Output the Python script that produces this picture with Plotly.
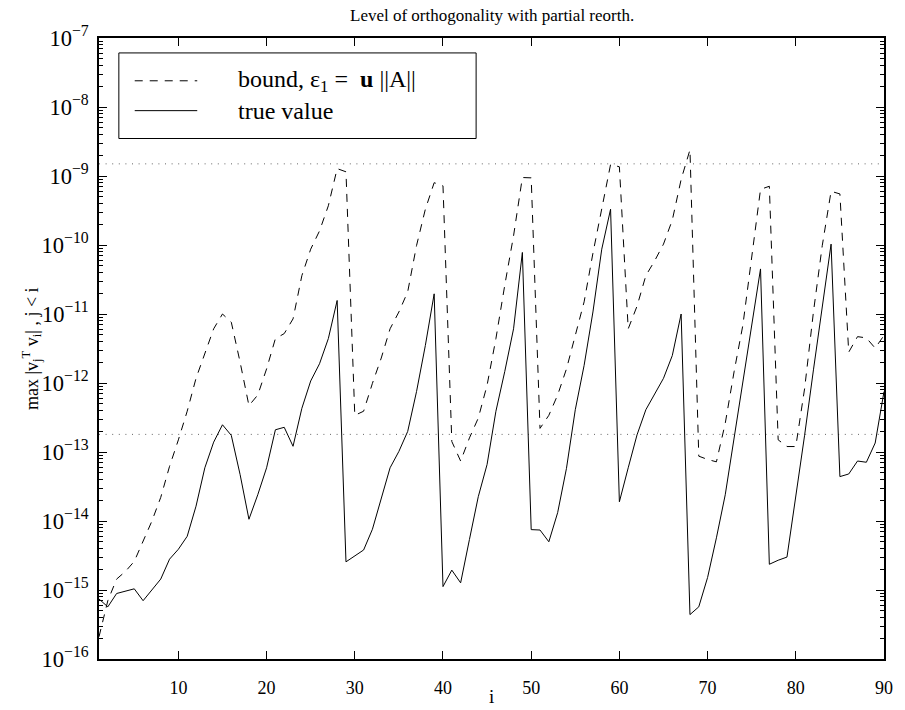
import plotly.graph_objects as go

# ---------------- data ----------------
iters = list(range(1, 91))

true_value = [
    7.4e-16, 5.7e-16, 8.9e-16, 9.7e-16, 1.04e-15, 7.0e-16, 1.0e-15, 1.44e-15, 2.8e-15, 3.9e-15,
    6.0e-15, 1.64e-14, 5.9e-14, 1.39e-13, 2.48e-13, 1.74e-13, 4.7e-14, 1.06e-14, 2.4e-14, 5.9e-14,
    2.1e-13, 2.28e-13, 1.21e-13, 4.3e-13, 1.07e-12, 1.9e-12, 4.4e-12, 1.57e-11, 2.56e-15, 3.09e-15,
    3.8e-15, 7.6e-15, 2.1e-14, 5.9e-14, 1.02e-13, 1.99e-13, 7.5e-13, 3.5e-12, 1.96e-11, 1.12e-15,
    1.94e-15, 1.27e-15, 5.4e-15, 2.25e-14, 6.6e-14, 3.9e-13, 1.46e-12, 6.1e-12, 7.8e-11, 7.5e-15,
    7.4e-15, 5.0e-15, 1.32e-14, 5.8e-14, 4.1e-13, 1.8e-12, 1.07e-11, 8.7e-11, 3.3e-10, 1.9e-14,
    5.9e-14, 1.77e-13, 4.1e-13, 6.9e-13, 1.17e-12, 2.5e-12, 1.0e-11, 4.4e-16, 5.7e-16, 1.52e-15,
    5.7e-15, 2.4e-14, 1.55e-13, 1.02e-12, 7.3e-12, 4.5e-11, 2.36e-15, 2.7e-15, 3.0e-15, 2.2e-14,
    1.75e-13, 1.55e-12, 1.2e-11, 1.03e-10, 4.4e-14, 4.8e-14, 7.4e-14, 7.1e-14, 1.35e-13, 7.5e-13,
]

bound = [
    2.1e-16, 7.0e-16, 1.44e-15, 1.86e-15, 2.6e-15, 5.1e-15, 1.0e-14, 2.2e-14, 6.2e-14, 1.5e-13,
    3.9e-13, 1.17e-12, 2.7e-12, 6.1e-12, 1.0e-11, 7.6e-12, 2.0e-12, 4.7e-13, 6.7e-13, 1.6e-12,
    4.4e-12, 5.2e-12, 8.5e-12, 3.6e-11, 8.7e-11, 1.6e-10, 3.7e-10, 1.28e-9, 1.15e-9, 3.4e-13,
    3.9e-13, 9.9e-13, 2.3e-12, 6.1e-12, 1.07e-11, 2.1e-11, 9.8e-11, 3.3e-10, 8.0e-10, 7.2e-10,
    1.42e-13, 7.4e-14, 1.6e-13, 3.1e-13, 9.3e-13, 4.4e-12, 2.6e-11, 1.36e-10, 9.5e-10, 9.4e-10,
    2.2e-13, 3.4e-13, 6.7e-13, 1.6e-12, 4.9e-12, 1.5e-11, 7.6e-11, 3.3e-10, 1.47e-9, 1.36e-9,
    6.1e-12, 1.3e-11, 3.6e-11, 5.9e-11, 1.03e-10, 2.3e-10, 8.9e-10, 2.4e-9, 8.7e-14, 7.8e-14,
    7.2e-14, 2.6e-13, 1.45e-12, 6.9e-12, 6.3e-11, 6.4e-10, 7.1e-10, 1.5e-13, 1.2e-13, 1.2e-13,
    8.3e-13, 1.07e-11, 9.8e-11, 6.0e-10, 5.5e-10, 2.8e-12, 4.7e-12, 4.5e-12, 3.2e-12, 4.9e-12,
]

levels = [1.5e-9, 1.8e-13]          # dotted reference levels
x_ticks = [10, 20, 30, 40, 50, 60, 70, 80, 90]
series_names = ["bound, ε<sub>1</sub> =&nbsp; <b>u</b> ||A||", "true value"]
title_text = "Level of orthogonality with partial reorth."
x_label = "i"
y_label = "max |v<sub>j</sub><sup>T</sup> v<sub>i</sub>| , j &lt; i"

FONT = "Liberation Serif"
DASH = "8px,7px"

fig = go.Figure()

for lv in levels:
    fig.add_trace(go.Scatter(x=[iters[0], iters[-1]], y=[lv, lv], mode="lines",
                             line=dict(color="#666666", width=1, dash="1px,5.6px"),
                             showlegend=False, hoverinfo="skip"))

fig.add_trace(go.Scatter(x=iters, y=bound, mode="lines", name=series_names[0],
                         line=dict(color="black", width=1, dash=DASH), showlegend=False))
fig.add_trace(go.Scatter(x=iters, y=true_value, mode="lines", name=series_names[1],
                         line=dict(color="black", width=1), showlegend=False))

# ---------------- legend (box drawn in paper coords) ----------------
L, R, T, B = 99, 890, 38, 662
W, H = R - L, B - T
def px(x):
    return (x - L) / W
def py(y):
    return (B - y) / H

fig.add_shape(type="rect", xref="paper", yref="paper",
              x0=px(119), x1=px(479), y0=py(139), y1=py(53),
              line=dict(color="black", width=1), fillcolor="white", layer="above")
for k, (yy, dash) in enumerate([(81, DASH), (111, "solid")]):
    fig.add_shape(type="line", xref="paper", yref="paper",
                  x0=px(135), x1=px(198), y0=py(yy), y1=py(yy),
                  line=dict(color="black", width=1, dash=dash), layer="above")
    fig.add_annotation(xref="paper", yref="paper", x=px(237), y=py(yy),
                       xanchor="left", yanchor="middle", showarrow=False,
                       text=series_names[k], font=dict(family=FONT, size=24, color="black"))

# titles
fig.add_annotation(xref="paper", yref="paper", x=0.5, y=py(15), xanchor="center", yanchor="middle",
                   showarrow=False, text=title_text, font=dict(family=FONT, size=17, color="black"))
fig.add_annotation(xref="paper", yref="paper", x=0.5, y=py(700), xanchor="center", yanchor="middle",
                   showarrow=False, text=x_label, font=dict(family=FONT, size=19, color="black"))
fig.add_annotation(xref="paper", yref="paper", x=px(31), y=0.5, xanchor="center", yanchor="middle",
                   textangle=-90, showarrow=False, text=y_label,
                   font=dict(family=FONT, size=18, color="black"))

fig.update_layout(
    width=905, height=710,
    margin=dict(l=L, r=905 - R, t=T, b=710 - B),
    paper_bgcolor="white", plot_bgcolor="white",
    showlegend=False,
    font=dict(family=FONT, color="black"),
)
fig.update_xaxes(range=[1, 90], tickvals=x_ticks, ticks="inside", ticklen=8, tickwidth=1,
                 tickcolor="black", showline=True, linecolor="black", linewidth=1.5,
                 mirror="ticks", showgrid=False, zeroline=False, ticklabelstandoff=12,
                 tickfont=dict(family=FONT, size=18, color="black"))
fig.update_yaxes(type="log", range=[-16, -7], dtick=1, exponentformat="power",
                 showexponent="all", ticks="inside", ticklen=8, tickwidth=1, tickcolor="black",
                 showline=True, linecolor="black", linewidth=1.5, mirror="ticks",
                 showgrid=False, zeroline=False, ticklabelstandoff=5,
                 minor=dict(ticks="inside", ticklen=4, tickcolor="black", tickwidth=1,
                            showgrid=False, dtick="D1"),
                 tickfont=dict(family=FONT, size=18, color="black"))

fig.write_html("out.html")
